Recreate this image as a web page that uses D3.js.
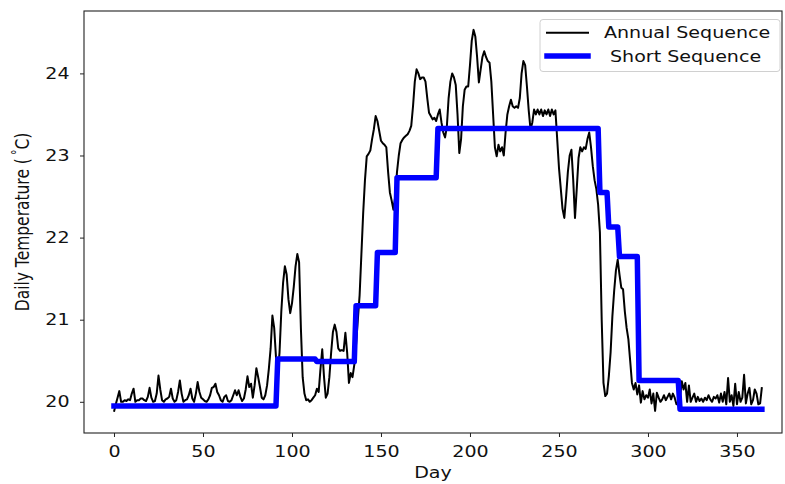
<!DOCTYPE html>
<html><head><meta charset="utf-8">
<script src="https://cdn.jsdelivr.net/npm/d3@7/dist/d3.min.js"></script>
<style>
body{margin:0;background:#fff}
text{font-family:"DejaVu Sans",sans-serif;fill:#111}
</style>
</head><body>
<svg id="chart" width="785" height="484"></svg>
<script>
// ---------------- data ----------------
const seriesNames = ["Annual Sequence", "Short Sequence"];
const xTicks = [0, 50, 100, 150, 200, 250, 300, 350];
const yTicks = [20, 21, 22, 23, 24];
const xLabel = "Day";

// daily temperature, day 0 .. 364
const annualTemp = [
 19.88,19.97,20.05,20.13,20.00,20.00,20.02,20.01,20.03,20.02,
 20.10,20.16,20.00,20.02,20.02,20.04,20.04,20.02,20.01,20.06,
 20.17,20.05,20.00,20.01,20.10,20.32,20.15,20.02,20.00,20.03,
 20.04,20.06,20.16,20.04,20.00,20.02,20.12,20.26,20.10,20.00,
 20.02,20.03,20.08,20.16,20.04,20.00,20.10,20.24,20.12,20.05,
 20.03,20.01,20.00,20.03,20.08,20.17,20.18,20.22,20.12,20.08,
 20.02,20.00,20.06,20.08,20.01,20.00,20.02,20.08,20.14,20.08,
 20.14,20.06,20.01,20.04,20.15,20.31,20.18,20.22,20.05,20.20,
 20.41,20.30,20.18,20.05,20.03,20.08,20.20,20.40,20.65,21.05,
 20.90,20.55,20.35,20.60,21.10,21.45,21.65,21.55,21.25,21.08,
 21.20,21.40,21.65,21.80,21.70,20.90,20.30,20.10,20.02,20.03,
 20.00,20.02,20.05,20.08,20.16,20.12,20.40,20.64,20.30,20.05,
 20.10,20.30,20.60,20.85,20.94,20.85,20.65,20.62,20.63,20.62,
 20.84,20.60,20.23,20.35,20.30,20.45,20.70,21.00,21.30,21.80,
 22.30,22.70,22.99,23.02,23.06,23.20,23.32,23.48,23.42,23.30,
 23.18,23.15,23.13,23.10,22.80,22.55,22.45,22.34,22.50,22.80,
 23.00,23.15,23.19,23.22,23.24,23.26,23.30,23.36,23.60,23.90,
 24.05,24.00,23.93,23.95,23.95,23.90,23.70,23.52,23.48,23.44,
 23.46,23.42,23.50,23.56,23.40,23.28,23.22,23.35,23.70,23.90,
 24.00,23.95,23.86,23.50,23.03,23.20,23.60,23.80,23.84,23.84,
 24.10,24.40,24.53,24.45,24.20,23.89,24.05,24.20,24.27,24.20,
 24.15,24.13,23.90,23.50,23.10,22.99,23.13,23.05,23.10,23.00,
 23.28,23.50,23.60,23.68,23.60,23.58,23.60,23.58,23.70,24.00,
 24.15,24.10,23.84,23.55,23.32,23.40,23.56,23.50,23.56,23.50,
 23.56,23.48,23.55,23.50,23.56,23.48,23.56,23.50,23.55,23.20,
 22.85,22.60,22.35,22.24,22.50,22.80,23.00,23.07,22.70,22.24,
 22.60,22.97,23.10,23.05,23.10,23.08,23.20,23.28,23.10,22.87,
 22.70,22.59,22.40,22.06,21.00,20.23,20.07,20.10,20.31,20.60,
 21.04,21.35,21.60,21.73,21.55,21.39,21.37,21.10,20.90,20.76,
 20.50,20.23,20.15,20.23,20.09,20.20,19.99,20.13,20.03,20.08,
 20.05,20.15,19.98,20.10,19.89,20.11,20.05,20.00,20.03,20.08,
 20.02,20.06,20.10,20.03,20.10,20.05,19.97,19.98,20.05,20.25,
 20.15,20.23,20.00,20.20,20.00,20.05,20.10,20.00,20.06,20.01,
 20.04,20.00,20.05,20.02,20.08,20.03,20.00,20.06,20.04,20.08,
 19.99,20.10,20.00,20.12,19.97,20.29,20.00,20.08,19.95,20.22,
 19.97,20.12,20.00,20.05,20.33,19.98,20.10,20.17,19.97,20.02,
 20.15,20.10,19.97,19.98,20.18
];

// short sequence: piecewise-constant levels (first day of each level)
const shortStart = [0, 92, 114, 136, 148, 159, 182, 273, 278, 284, 295, 318];
const shortTemp  = [19.95, 20.52, 20.49, 21.17, 21.82, 22.73, 23.33, 22.55, 22.13, 21.77, 20.26, 19.91];
const lastDay = 364;

// ---------------- layout ----------------
const svg = d3.select("#chart");
const L = 84, R = 782, T = 11, B = 433;
const SX = 1.23;          // horizontal glyph stretch of the reference
const FS = 15.5;

const x = d3.scaleLinear().domain([-16.85, 375.3]).range([L, R]);
const y = d3.scaleLinear().domain([19.62, 24.76]).range([B, T]);

// lines
const annualLine = d3.line().x((d, i) => x(i)).y(d => y(d));
svg.append("path").datum(annualTemp)
  .attr("d", annualLine)
  .attr("fill", "none").attr("stroke", "#000")
  .attr("stroke-width", 2).attr("stroke-linejoin", "round");

const shortPts = [];
shortStart.forEach((s, i) => {
  const e = i < shortStart.length - 1 ? shortStart[i + 1] - 1 : lastDay;
  shortPts.push([s, shortTemp[i]], [e, shortTemp[i]]);
});
svg.append("path").datum(shortPts)
  .attr("d", d3.line().x(d => x(d[0])).y(d => y(d[1])))
  .attr("fill", "none").attr("stroke", "#0000ff")
  .attr("stroke-width", 5.5).attr("stroke-linejoin", "round")
  .attr("stroke-linecap", "square");

// frame
svg.append("rect").attr("x", L).attr("y", T)
  .attr("width", R - L).attr("height", B - T)
  .attr("fill", "none").attr("stroke", "#222").attr("stroke-width", 1.1);

// axes
const xAxis = svg.append("g").attr("transform", `translate(0,${B})`)
  .call(d3.axisBottom(x).tickValues(xTicks).tickSize(4).tickSizeOuter(0).tickFormat(d3.format("d")));
xAxis.select(".domain").remove();
xAxis.selectAll("line").attr("stroke", "#222");
xAxis.selectAll("text")
  .attr("font-size", FS).attr("font-family", "DejaVu Sans").attr("fill", "#111")
  .attr("y", 13).attr("dy", "0.71em")
  .attr("transform", `scale(${SX},1)`);

const yAxis = svg.append("g").attr("transform", `translate(${L},0)`)
  .call(d3.axisLeft(y).tickValues(yTicks).tickSize(4).tickSizeOuter(0).tickFormat(d3.format("d")));
yAxis.select(".domain").remove();
yAxis.selectAll("line").attr("stroke", "#222");
yAxis.selectAll("text")
  .attr("font-size", FS).attr("font-family", "DejaVu Sans").attr("fill", "#111")
  .attr("x", -14.5 / SX)
  .attr("transform", `scale(${SX},1)`);

// axis labels
svg.append("text")
  .attr("transform", `translate(${(L + R) / 2},478) scale(${SX},1)`)
  .attr("text-anchor", "middle").attr("font-size", FS).text(xLabel);

const yl = svg.append("text")
  .attr("transform", `translate(29,${(T + B) / 2}) scale(${SX},1) rotate(-90)`)
  .attr("text-anchor", "middle").attr("font-size", FS);
yl.append("tspan").text("Daily Temperature (\u2009");
yl.append("tspan").attr("font-size", FS * 0.7).attr("dy", "-0.55em").text("\u00b0");
yl.append("tspan").attr("dy", "0.385em").text("C)");

// legend
const lg = svg.append("g");
lg.append("rect").attr("x", 540).attr("y", 19.5).attr("width", 240).attr("height", 52)
  .attr("rx", 3).attr("fill", "#fff").attr("fill-opacity", 0.85)
  .attr("stroke", "#d0d0d0").attr("stroke-width", 1);
const legendItems = [
  {name: seriesNames[0], color: "#000", w: 2, yy: 32.7, tx: 604},
  {name: seriesNames[1], color: "#0000ff", w: 5.5, yy: 56, tx: 610}
];
legendItems.forEach(it => {
  lg.append("line").attr("x1", 547).attr("x2", 588).attr("y1", it.yy).attr("y2", it.yy)
    .attr("stroke", it.color).attr("stroke-width", it.w).attr("stroke-linecap", "square");
  lg.append("text").attr("transform", `translate(${it.tx},${it.yy + 5.7}) scale(${SX},1)`)
    .attr("font-size", FS).text(it.name);
});
</script>
</body></html>
